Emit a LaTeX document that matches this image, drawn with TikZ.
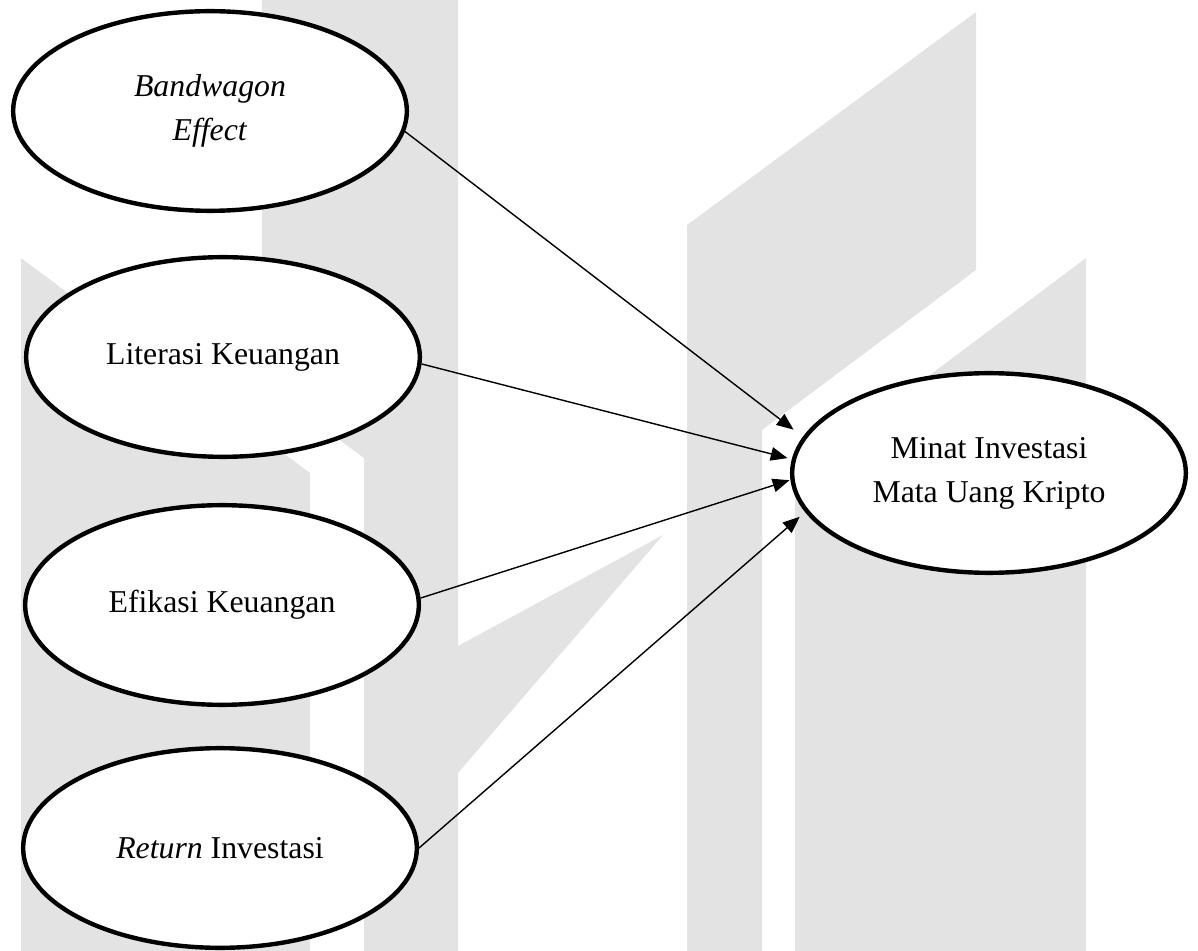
\documentclass[tikz,border=0pt]{standalone}
\usepackage{fontspec}
\setmainfont{Liberation Serif}
\usetikzlibrary{arrows.meta,shapes}
\definecolor{wmgray}{RGB}{227,227,227}

\begin{document}
\begin{tikzpicture}[->,>={Triangle[length=0.42cm,width=0.34cm]},line width=1pt,x=0.025cm,y=-0.025cm,
                var/.style={shape=ellipse,draw=black,line width=0.11cm,fill=white,minimum width=9.84cm,minimum height=4.99cm,inner sep=0pt,align=center,font=\fontsize{22.6}{31.3}\selectfont}]
                \useasboundingbox (0,0) rectangle (1198,951);
                % watermark in the background
                \fill[wmgray,-] (21,258) -- (310,473) -- (310,951) -- (21,951) -- cycle;
                \fill[wmgray,-] (262,0) -- (458,0) -- (458,951) -- (364,951) -- (364,458) -- (262,383) -- cycle;
                \fill[wmgray,-] (458,646) -- (663,535) -- (458,773) -- cycle;
                \fill[wmgray,-] (687,225) -- (976,12) -- (976,270) -- (762,430) -- (762,951) -- (687,951) -- cycle;
                \fill[wmgray,-] (795,476) -- (1086,258) -- (1086,951) -- (795,951) -- cycle;
                % variables
                \node[var](BE)at(210, 111){\textit{Bandwagon}\\\textit{Effect}};
                \node[var](LK)at(223, 357){Literasi Keuangan};
                \node[var](EK)at(222, 605){Efikasi Keuangan};
                \node[var](RI)at(220, 848){\textit{Return} Investasi};
                \node[var](MI)at(989, 473){Minat Investasi\\Mata Uang Kripto};
                \path[](BE.-6) edge[shorten >=0.295cm] (MI.169.8)
                (LK.-2) edge[shorten >=0.11cm] (MI.176.6)
                (EK.2) edge[shorten >=0.025cm] (MI.182.8)
                (RI.east) edge[shorten >=0.18cm] (MI.192.1);
            \end{tikzpicture}
\end{document}
